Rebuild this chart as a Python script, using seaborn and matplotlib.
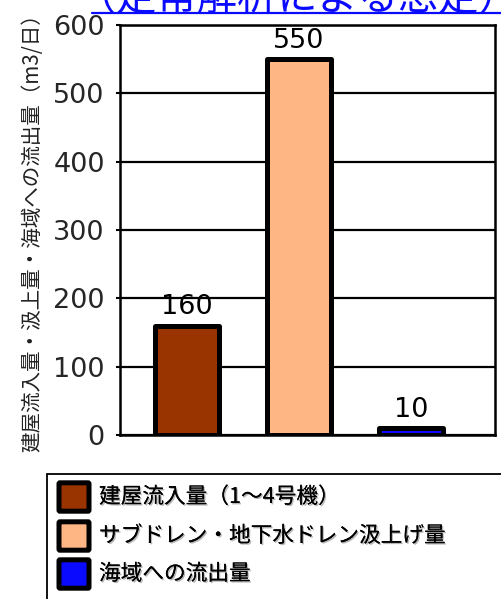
import matplotlib
matplotlib.use("Agg")
import matplotlib.pyplot as plt
import matplotlib.patheffects as pe
from matplotlib.patches import Rectangle, FancyBboxPatch
from matplotlib.lines import Line2D
import seaborn as sns

categories = ["建屋流入量（1～4号機）", "サブドレン・地下水ドレン汲上げ量", "海域への流出量"]
values = [160, 550, 10]
colors = ["#993300", "#FFB685", "#0A0AFF"]
yticks = [0, 100, 200, 300, 400, 500, 600]
title = "（定常解析による想定）"
ylabel = "建屋流入量・汲上量・海域への流出量（m3/日）"

sns.set_theme(style="white")
plt.rcParams["font.family"] = ["DejaVu Sans", "Noto Sans CJK JP"]
JP = ["Noto Sans CJK JP", "DejaVu Sans"]

W, H = 501, 599
fig = plt.figure(figsize=(W / 100, H / 100), dpi=100)
ax = fig.add_axes([120 / W, (H - 435) / H, (495 - 120) / W, (435 - 25) / H])

sns.barplot(x=categories, y=values, hue=categories, palette=colors, width=0.57,
            saturation=1, edgecolor="black", linewidth=3.6, legend=False, ax=ax, zorder=3)
for p in ax.patches:
    p.set_joinstyle("round")

for c in ax.containers:
    ax.bar_label(c, padding=4, fontsize=19.5, color="black")

ax.set_xlim(-0.6, 2.75)
ax.set_ylim(0, 600)
ax.set_yticks(yticks)
ax.set_yticklabels([str(v) for v in yticks], fontsize=19.5)
ax.set_xticks([])
ax.set_xlabel("")
ax.grid(axis="y", color="black", linewidth=1.6, zorder=0)
ax.grid(axis="x", visible=False)
for s in ax.spines.values():
    s.set_color("black")
    s.set_linewidth(1.8)
ax.tick_params(axis="y", length=3, width=1.5, color="black", pad=8, left=True)

ax.set_ylabel(ylabel, fontsize=14.8, family=JP, color="#222222", va="center")
ax.yaxis.set_label_coords(-0.235, 0.505)

# Title (partially cut at the top, as in the reference)
fig.text(297 / W, 1 - 10 / H, title, fontsize=29, family=JP, color="#0A0AFF",
         ha="center", va="baseline")
fig.add_artist(Line2D([92 / W, 1.0], [1 - 13 / H, 1 - 13 / H], color="#0A0AFF",
                      linewidth=1.6, transform=fig.transFigure))

# Legend box
fig.add_artist(Rectangle((47 / W, -0.05), 1.0, 0.05 + (H - 474) / H,
                         transform=fig.transFigure, facecolor="white",
                         edgecolor="black", linewidth=1.3))
rows = [497, 536, 574]
for lab, col, yc in zip(categories, colors, rows):
    fig.add_artist(FancyBboxPatch((60 / W, 1 - (yc + 13) / H), 28 / W, 26 / H,
                                  boxstyle="round,pad=0.002", transform=fig.transFigure,
                                  facecolor=col, edgecolor="black", linewidth=3.6))
    fig.text(99 / W, 1 - yc / H, lab, fontsize=15.6, family=JP, color="black",
             ha="left", va="center",
             path_effects=[pe.withSimplePatchShadow(offset=(1, -1), shadow_rgbFace="#888888", alpha=0.6),
                           pe.Normal()])

fig.savefig("out.png", dpi=100)
